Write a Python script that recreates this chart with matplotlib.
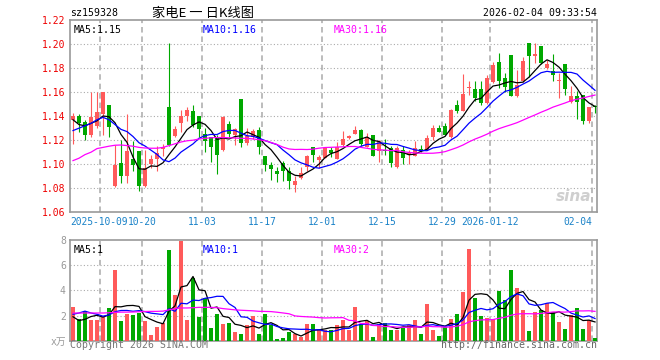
import numpy as np
import pandas as pd
import matplotlib
matplotlib.use("Agg")
import matplotlib.pyplot as plt

# daily OHLC, 2025-09-24 .. 2026-02-04
opens = [1.137, 1.140, 1.135, 1.124, 1.132, 1.142, 1.149, 1.082, 1.101, 1.090,
         1.104, 1.111, 1.082, 1.100, 1.104, 1.113, 1.148, 1.1235, 1.134, 1.140,
         1.1445, 1.140, 1.125, 1.1225, 1.122, 1.112, 1.1336, 1.1245, 1.1544, 1.1175,
         1.1225, 1.1286, 1.107, 1.099, 1.0945, 1.101, 1.0944, 1.083, 1.0885, 1.098,
         1.1147, 1.1036, 1.1055, 1.112, 1.1042, 1.116, 1.1217, 1.1253, 1.1286, 1.1147,
         1.1244, 1.111, 1.112, 1.1133, 1.098, 1.112, 1.108, 1.107, 1.1128, 1.112,
         1.123, 1.130, 1.132, 1.1225, 1.1494, 1.1447, 1.1637, 1.163, 1.163, 1.1508,
         1.168, 1.1847, 1.1717, 1.1911, 1.1564, 1.1689, 1.2008, 1.190, 1.198, 1.180,
         1.1772, 1.1689, 1.1836, 1.1514, 1.157, 1.1578, 1.1356, 1.1482]
highs = [1.1425, 1.142, 1.137, 1.160, 1.160, 1.160, 1.149, 1.116, 1.120, 1.142,
         1.119, 1.111, 1.112, 1.108, 1.115, 1.117, 1.201, 1.132, 1.145, 1.148,
         1.149, 1.140, 1.130, 1.123, 1.124, 1.140, 1.1356, 1.130, 1.1544, 1.130,
         1.129, 1.131, 1.107, 1.102, 1.098, 1.103, 1.0975, 1.090, 1.0978, 1.1075,
         1.1147, 1.108, 1.1135, 1.114, 1.1185, 1.1278, 1.1245, 1.132, 1.129, 1.126,
         1.1244, 1.120, 1.121, 1.115, 1.115, 1.115, 1.112, 1.119, 1.116, 1.124,
         1.1328, 1.1328, 1.134, 1.146, 1.1536, 1.1753, 1.169, 1.169, 1.169, 1.1745,
         1.1847, 1.1925, 1.176, 1.1911, 1.1786, 1.189, 1.2008, 1.2008, 1.198, 1.187,
         1.192, 1.1755, 1.1836, 1.1647, 1.1608, 1.1578, 1.148, 1.1494]
lows = [1.117, 1.127, 1.120, 1.123, 1.130, 1.124, 1.123, 1.081, 1.084, 1.084,
        1.094, 1.078, 1.081, 1.097, 1.094, 1.1065, 1.115, 1.123, 1.127, 1.1356,
        1.131, 1.123, 1.110, 1.102, 1.092, 1.111, 1.123, 1.116, 1.1147, 1.116,
        1.121, 1.1086, 1.0947, 1.087, 1.0856, 1.0864, 1.079, 1.0772, 1.0875, 1.094,
        1.102, 1.0967, 1.105, 1.106, 1.104, 1.1155, 1.121, 1.125, 1.1155, 1.114,
        1.1065, 1.102, 1.108, 1.098, 1.097, 1.1005, 1.100, 1.1065, 1.110, 1.1115,
        1.1205, 1.1265, 1.124, 1.1215, 1.1425, 1.144, 1.158, 1.153, 1.1495, 1.150,
        1.1675, 1.1633, 1.160, 1.1564, 1.156, 1.168, 1.1725, 1.184, 1.1835, 1.1795,
        1.169, 1.155, 1.1575, 1.151, 1.1375, 1.1333, 1.1345, 1.1425]
closes = [1.140, 1.134, 1.124, 1.139, 1.1436, 1.160, 1.131, 1.099, 1.090, 1.111,
          1.099, 1.082, 1.097, 1.104, 1.109, 1.114, 1.116, 1.129, 1.140, 1.145,
          1.133, 1.129, 1.119, 1.114, 1.108, 1.139, 1.125, 1.129, 1.1175, 1.1235,
          1.128, 1.114, 1.099, 1.096, 1.092, 1.094, 1.086, 1.086, 1.093, 1.107,
          1.108, 1.1064, 1.1133, 1.1097, 1.1147, 1.1211, 1.1236, 1.1286, 1.117, 1.123,
          1.107, 1.119, 1.1106, 1.1008, 1.1133, 1.105, 1.1097, 1.1133, 1.1122, 1.1217,
          1.130, 1.1272, 1.1244, 1.1453, 1.1444, 1.1586, 1.1645, 1.1555, 1.1508, 1.1717,
          1.1828, 1.1689, 1.164, 1.157, 1.166, 1.1856, 1.1897, 1.1915, 1.184, 1.1836,
          1.1744, 1.1703, 1.1622, 1.157, 1.152, 1.1356, 1.148, 1.1478]
# volume, 10k shares
volumes = [2.70, 1.73, 2.37, 1.65, 1.65, 1.97, 2.62, 5.64, 1.57, 2.13,
           2.05, 2.23, 1.57, 0.45, 1.10, 1.38, 7.24, 3.67, 7.95, 1.65,
           5.00, 1.90, 3.37, 1.00, 2.13, 1.29, 1.42, 0.70, 0.53, 1.25,
           1.98, 0.55, 2.13, 1.25, 0.16, 0.22, 0.68, 0.50, 0.30, 1.33,
           1.33, 0.87, 0.85, 0.85, 1.25, 1.65, 0.85, 2.68, 1.33, 1.58,
           0.32, 1.35, 1.42, 0.87, 0.85, 1.04, 1.25, 1.65, 0.53, 2.93,
           0.85, 0.37, 1.09, 1.73, 2.13, 3.89, 7.25, 3.41, 1.97, 1.81,
           1.73, 3.97, 3.25, 5.65, 4.21, 2.45, 0.77, 2.29, 2.45, 3.01,
           2.29, 1.49, 0.93, 2.05, 2.61, 0.93, 1.65, 0.21]

# moving averages at the left edge (their window starts before the shown data)
ma5_head = [1.137, 1.133, 1.132, 1.134]
ma10_head = [1.128, 1.130, 1.132, 1.134, 1.137, 1.139, 1.137, 1.133, 1.129]
ma30_head = [1.103, 1.105, 1.108, 1.110, 1.113, 1.114, 1.115, 1.1158, 1.116, 1.1155,
             1.115, 1.114, 1.1135, 1.1133, 1.1133, 1.114, 1.1155, 1.117, 1.1185, 1.1195,
             1.120, 1.121, 1.1215, 1.122, 1.1222, 1.1222, 1.122, 1.1218, 1.1216]
vma5_head = [1.9, 1.6, 1.7, 1.92]
vma10_head = [2.1, 2.2, 2.35, 2.2, 2.1, 1.95, 2.05, 2.3, 2.4]
vma30_head = [2.2, 2.2, 2.2, 2.2, 2.2, 2.2, 2.22, 2.25, 2.27, 2.27,
              2.28, 2.3, 2.32, 2.33, 2.33, 2.35, 2.45, 2.55, 2.6, 2.6,
              2.62, 2.65, 2.65, 2.65, 2.62, 2.55, 2.5, 2.45, 2.42]

date_idx = [5, 12, 22, 32, 42, 52, 62, 70, 87]
date_lbl = ['2025-10-09', '10-20', '11-03', '11-17', '12-01', '12-15',
            '12-29', '2026-01-12', '02-04']

RED = '#ff5a5a'
GREEN = '#00a800'
GRID = '#aaaaaa'
MONO = 'DejaVu Sans Mono'
FS = 7.1

plt.rcParams['lines.scale_dashes'] = False


def moving_avg(vals, n, head):
    s = pd.Series(vals).rolling(n).mean()
    s.iloc[:len(head)] = head
    return s.values


W, H = 660, 360
fig = plt.figure(figsize=(6.6, 3.6), dpi=100)


def px(x, y):
    return x / W, 1 - y / H


ax = fig.add_axes([70 / W, (H - 212.3) / H, 527 / W, 192.3 / H])
axv = fig.add_axes([70 / W, (H - 340.7) / H, 527 / W, 100.7 / H])

x = np.arange(len(closes))
o = np.array(opens)
c = np.array(closes)
cols = np.where(c >= o, RED, GREEN)

for a in (ax, axv):
    a.set_xlim(-0.5, 87.33)
    for i in date_idx:
        a.axvline(i - 0.5, color=GRID, lw=1.1, ls=(0, (4, 2.8)), zorder=1)
    for s in a.spines.values():
        s.set_color('#999999')
        s.set_linewidth(1.2)
    a.set_xticks([])
    a.tick_params(axis='y', length=0, pad=3)

# price panel
ax.vlines(x, lows, highs, colors=cols, lw=0.8, zorder=3)
ax.bar(x, np.maximum(np.abs(c - o), 0.0008), bottom=np.minimum(o, c),
       width=0.8, color=cols, lw=0, zorder=3)
ma5 = moving_avg(closes, 5, ma5_head)
ma10 = moving_avg(closes, 10, ma10_head)
ma30 = moving_avg(closes, 30, ma30_head)
ax.plot(x, ma5, color='black', lw=0.9, zorder=4)
ax.plot(x, ma10, color='#0000ff', lw=0.9, zorder=4)
ax.plot(x, ma30, color='#ff00ff', lw=0.9, zorder=4)
ax.set_ylim(1.06, 1.22)
yt = np.arange(1.06, 1.2201, 0.02)
ax.set_yticks(yt)
ax.set_yticklabels([f'{v:.2f}' for v in yt], family=MONO, fontsize=7.0, color='#ee0000')
for v in yt[1:-1]:
    ax.axhline(v, color=GRID, lw=0.8, ls=(0, (0.8, 1.6)), zorder=1)

for j, (i, lbl) in enumerate(zip(date_idx, date_lbl)):
    if j == 0:
        xx, ha = -0.5, 'left'
    elif j == len(date_idx) - 1:
        xx, ha = i - 0.5, 'right'
    else:
        xx, ha = i - 0.5, 'center'
    ax.annotate(lbl, xy=(xx, 0), xycoords=('data', 'axes fraction'),
                xytext=(0, -9.3 * 0.72), textcoords='offset points',
                ha=ha, va='center', family=MONO, fontsize=6.9, color='#1a82c8')

ax.text(0.006, 0.972, f'MA5:{ma5[-1]:.2f}', transform=ax.transAxes,
        family=MONO, fontsize=FS, color='black', va='top')
ax.text(0.2525, 0.972, f'MA10:{ma10[-1]:.2f}', transform=ax.transAxes,
        family=MONO, fontsize=FS, color='#0000ff', va='top')
ax.text(0.501, 0.972, f'MA30:{ma30[-1]:.2f}', transform=ax.transAxes,
        family=MONO, fontsize=FS, color='#ff00ff', va='top')
ax.text(0.99, 0.045, 'sina', transform=ax.transAxes, ha='right', va='bottom',
        fontsize=11, fontweight='bold', style='italic', color='#cfcfcf', zorder=2)

# volume panel
axv.bar(x, volumes, width=0.8, color=cols, lw=0, zorder=3)
vma5 = moving_avg(volumes, 5, vma5_head)
vma10 = moving_avg(volumes, 10, vma10_head)
vma30 = moving_avg(volumes, 30, vma30_head)
axv.plot(x, vma5, color='black', lw=0.9, zorder=4)
axv.plot(x, vma10, color='#0000ff', lw=0.9, zorder=4)
axv.plot(x, vma30, color='#ff00ff', lw=0.9, zorder=4)
axv.set_ylim(0, 8)
axv.set_yticks([0, 2, 4, 6, 8])
axv.set_yticklabels(['x万', '2', '4', '6', '8'], family=[MONO, 'Noto Sans CJK SC'],
                    fontsize=7.0, color='#999999')
for v in (2, 4, 6):
    axv.axhline(v, color=GRID, lw=0.8, ls=(0, (0.8, 1.6)), zorder=1)
axv.text(0.006, 0.955, f'MA5:{int(vma5[-1])}', transform=axv.transAxes,
         family=MONO, fontsize=FS, color='black', va='top')
axv.text(0.2525, 0.955, f'MA10:{int(vma10[-1])}', transform=axv.transAxes,
         family=MONO, fontsize=FS, color='#0000ff', va='top')
axv.text(0.501, 0.955, f'MA30:{int(vma30[-1])}', transform=axv.transAxes,
         family=MONO, fontsize=FS, color='#ff00ff', va='top')

# header and footer
fig.text(*px(70, 13.5), 'sz159328', family=MONO, fontsize=FS, va='center')
fig.text(*px(203.5, 13.5), '家电E 一 日K线图', family=['Noto Sans CJK SC', 'DejaVu Sans'],
         fontsize=9.5, ha='center', va='center')
fig.text(*px(597, 13.5), '2026-02-04 09:33:54', family=MONO, fontsize=FS,
         ha='right', va='center')
fig.text(*px(70, 345.5), 'Copyright 2026 SINA.COM', family=MONO, fontsize=FS,
         color='#777777', va='center')
fig.text(*px(597, 345.5), 'http://finance.sina.com.cn', family=MONO, fontsize=FS,
         color='#666666', ha='right', va='center')

fig.savefig('out.png', dpi=100)
